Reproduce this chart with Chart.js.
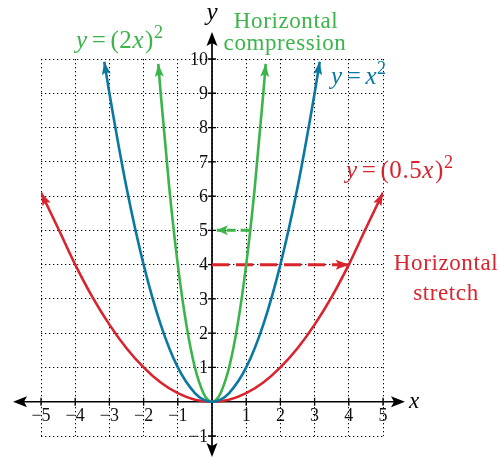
<!DOCTYPE html>
<html>
<head>
<meta charset="utf-8">
<script src="https://cdn.jsdelivr.net/npm/chart.js@4/dist/chart.umd.min.js"></script>
<style>
html,body{margin:0;padding:0;background:#fff;}
canvas{display:block;}
</style>
</head>
<body>
<canvas id="c" width="499" height="458"></canvas>
<script>
// ---- data ----
const xTicks = [-5, -4, -3, -2, -1, 1, 2, 3, 4, 5];
const yTicks = [-1, 1, 2, 3, 4, 5, 6, 7, 8, 9, 10];

const redX = [-5, -4.5, -4, -3.5, -3, -2.5, -2, -1.5, -1, -0.5, 0, 0.5, 1, 1.5, 2, 2.5, 3, 3.5, 4, 4.5, 5];
const redY = [6.1, 5.06, 4, 3.06, 2.25, 1.56, 1, 0.56, 0.25, 0.06, 0, 0.06, 0.25, 0.56, 1, 1.56, 2.25, 3.06, 4, 5.06, 6.1];

const blueX = [-3.15, -3, -2.5, -2, -1.5, -1, -0.5, -0.25, 0, 0.25, 0.5, 1, 1.5, 2, 2.5, 3, 3.15];
const blueY = [9.92, 9, 6.25, 4, 2.25, 1, 0.25, 0.06, 0, 0.06, 0.25, 1, 2.25, 4, 6.25, 9, 9.92];

const greenX = [-1.57, -1.5, -1.25, -1, -0.75, -0.5, -0.25, -0.125, 0, 0.125, 0.25, 0.5, 0.75, 1, 1.25, 1.5, 1.57];
const greenY = [9.86, 9, 6.25, 4, 2.25, 1, 0.25, 0.06, 0, 0.06, 0.25, 1, 2.25, 4, 6.25, 9, 9.86];

const compressionX = [1.1, 0.14];
const compressionY = [5, 5];
const stretchX = [0, 4];
const stretchY = [4, 4];

// ---- styles ----
const RED = '#d9232d';
const BLUE = '#0a78a3';
const GREEN = '#3bb44a';
const SERIF = '"Liberation Serif", "Times New Roman", serif';

const pts = (xs, ys) => xs.map((v, i) => ({x: v, y: ys[i]}));
const fmt = v => (v < 0 ? '\u2212' + Math.abs(v) : String(v));

function head(ctx, tx, ty, dx, dy, len, hw, notch) {
  const L = Math.hypot(dx, dy) || 1;
  const ux = dx / L, uy = dy / L, nx = -uy, ny = ux;
  const bx = tx - ux * len, by = ty - uy * len;
  ctx.beginPath();
  ctx.moveTo(tx, ty);
  ctx.lineTo(bx + nx * hw, by + ny * hw);
  ctx.lineTo(tx - ux * (len - notch), ty - uy * (len - notch));
  ctx.lineTo(bx - nx * hw, by - ny * hw);
  ctx.closePath();
  ctx.fill();
}

function rich(ctx, segs, x, y, size, color) {
  let cx = x;
  ctx.fillStyle = color;
  ctx.textAlign = 'left';
  ctx.textBaseline = 'alphabetic';
  segs.forEach(s => {
    const sz = s.sup ? Math.round(size * 0.7) : size;
    ctx.font = (s.i ? 'italic ' : '') + sz + 'px ' + SERIF;
    const up = s.sup ? size * 0.42 : 0;
    cx += (s.pre || 0);
    ctx.fillText(s.t, cx, y - up);
    cx += ctx.measureText(s.t).width + (s.post || 0);
  });
}

const axesPlugin = {
  id: 'axesPlugin',
  beforeDatasetsDraw(chart) {
    const {ctx, chartArea: a} = chart;
    const xs = chart.scales.x, ys = chart.scales.y;
    const ox = xs.getPixelForValue(0), oy = ys.getPixelForValue(0);
    ctx.save();
    ctx.strokeStyle = '#000';
    ctx.fillStyle = '#000';
    ctx.lineWidth = 1.7;
    const xl = a.left - 28, xr = a.right + 22;
    const yt = a.top - 27, yb = a.bottom + 21;
    ctx.beginPath();
    ctx.moveTo(xl + 6, oy); ctx.lineTo(xr - 6, oy);
    ctx.moveTo(ox, yt + 6); ctx.lineTo(ox, yb - 6);
    ctx.stroke();
    head(ctx, xr, oy, 1, 0, 14, 5.5, 3);
    head(ctx, xl, oy, -1, 0, 14, 5.5, 3);
    head(ctx, ox, yt, 0, -1, 14, 5.5, 3);
    head(ctx, ox, yb, 0, 1, 14, 5.5, 3);
    ctx.lineWidth = 1.3;
    ctx.beginPath();
    xTicks.forEach(v => { const p = xs.getPixelForValue(v); ctx.moveTo(p, oy - 4); ctx.lineTo(p, oy + 4); });
    yTicks.forEach(v => { const p = ys.getPixelForValue(v); ctx.moveTo(ox - 4, p); ctx.lineTo(ox + 4, p); });
    ctx.stroke();
    ctx.fillStyle = '#111';
    ctx.font = '18px ' + SERIF;
    ctx.textAlign = 'center';
    ctx.textBaseline = 'top';
    xTicks.forEach(v => ctx.fillText(fmt(v), xs.getPixelForValue(v), oy + 6));
    ctx.textAlign = 'right';
    ctx.textBaseline = 'middle';
    yTicks.forEach(v => ctx.fillText(fmt(v), ox - 4, ys.getPixelForValue(v) + 1));
    // axis titles
    ctx.fillStyle = '#000';
    ctx.font = 'italic 25px ' + SERIF;
    ctx.textAlign = 'center';
    ctx.textBaseline = 'alphabetic';
    ctx.fillText('y', ox, 20);
    ctx.font = 'italic 23px ' + SERIF;
    ctx.textAlign = 'left';
    ctx.fillText('x', xr + 4, oy + 6);
    ctx.restore();
  },
  afterDatasetsDraw(chart) {
    const {ctx} = chart;
    ctx.save();
    chart.data.datasets.forEach((ds, i) => {
      if (!ds.arrows) return;
      const pts = chart.getDatasetMeta(i).data;
      const n = pts.length;
      ctx.fillStyle = ds.borderColor;
      const L = ds.arrowLen, W = ds.arrowW;
      const last = pts[n - 1], prev = pts[n - 2];
      let dx = last.x - (last.cp1x ?? prev.x), dy = last.y - (last.cp1y ?? prev.y);
      if (Math.hypot(dx, dy) < 0.5) { dx = last.x - prev.x; dy = last.y - prev.y; }
      head(ctx, last.x, last.y, dx, dy, L, W, 2.5);
      if (ds.arrows === 'both') {
        const first = pts[0], nxt = pts[1];
        let ex = first.x - (first.cp2x ?? nxt.x), ey = first.y - (first.cp2y ?? nxt.y);
        if (Math.hypot(ex, ey) < 0.5) { ex = first.x - nxt.x; ey = first.y - nxt.y; }
        head(ctx, first.x, first.y, ex, ey, L, W, 2.5);
      }
    });
    ctx.restore();
  },
  afterDraw(chart) {
    const {ctx} = chart;
    ctx.save();
    try { ctx.letterSpacing = '0.6px'; } catch (e) {}
    rich(ctx, [{t: 'y', i: true, post: 4}, {t: '=', post: 4}, {t: '(2'}, {t: 'x', i: true, post: 1}, {t: ')'}, {t: '2', sup: true}], 76, 48, 25, GREEN);
    rich(ctx, [{t: 'y', i: true, post: 4}, {t: '=', post: 4}, {t: 'x', i: true}, {t: '2', sup: true}], 331, 84, 25, BLUE);
    rich(ctx, [{t: 'y', i: true, post: 4}, {t: '=', post: 4}, {t: '(0.5'}, {t: 'x', i: true, post: 1}, {t: ')'}, {t: '2', sup: true}], 346, 178, 25, RED);
    ctx.textAlign = 'center';
    ctx.textBaseline = 'alphabetic';
    ctx.font = '23px ' + SERIF;
    ctx.fillStyle = GREEN;
    ctx.fillText('Horizontal', 286, 28);
    ctx.fillText('compression', 285, 50);
    ctx.fillStyle = RED;
    ctx.fillText('Horizontal', 446, 270);
    ctx.fillText('stretch', 446, 300);
    ctx.restore();
  }
};

const curve = (data, color) => ({
  data, borderColor: color, backgroundColor: color, borderWidth: 2.6,
  pointRadius: 0, cubicInterpolationMode: 'monotone', fill: false,
  arrows: 'both', arrowLen: 13, arrowW: 4.5
});

new Chart(document.getElementById('c'), {
  type: 'line',
  data: {
    datasets: [
      curve(pts(blueX, blueY), BLUE),
      curve(pts(greenX, greenY), GREEN),
      curve(pts(redX, redY), RED),
      {data: pts(stretchX, stretchY), borderColor: RED, borderWidth: 3, borderDash: [17, 7], pointRadius: 0, tension: 0, arrows: 'end', arrowLen: 13, arrowW: 5},
      {data: pts(compressionX, compressionY), borderColor: GREEN, borderWidth: 3, borderDash: [9, 5], pointRadius: 0, tension: 0, arrows: 'end', arrowLen: 11, arrowW: 5}
    ]
  },
  options: {
    responsive: false,
    animation: false,
    events: [],
    layout: {padding: {left: 41, right: 116, top: 59, bottom: 22}},
    plugins: {legend: {display: false}, tooltip: {enabled: false}},
    scales: {
      x: {
        type: 'linear', min: -5, max: 5,
        ticks: {display: false, stepSize: 1},
        grid: {color: '#000', lineWidth: 1, drawTicks: false},
        border: {display: false, dash: [1.3, 2.7]}
      },
      y: {
        type: 'linear', min: -1, max: 10,
        ticks: {display: false, stepSize: 1},
        grid: {color: '#000', lineWidth: 1, drawTicks: false},
        border: {display: false, dash: [1.3, 2.7]}
      }
    }
  },
  plugins: [axesPlugin]
});
</script>
</body>
</html>
